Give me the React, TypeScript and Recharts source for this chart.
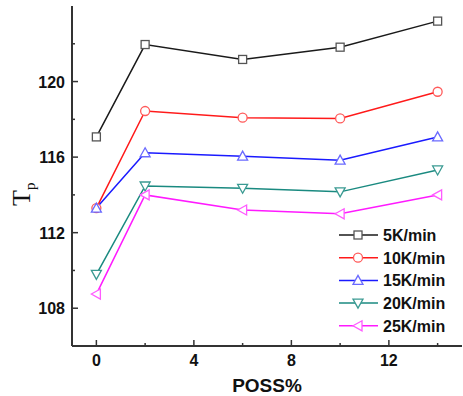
import React from 'react';
import { LineChart, Line, XAxis, YAxis, Legend } from 'recharts';

const possPercent = [0, 2, 6, 10, 14];
const rate5 = [117.07, 121.96, 121.17, 121.82, 123.2];
const rate10 = [113.3, 118.44, 118.09, 118.05, 119.46];
const rate15 = [113.3, 116.23, 116.05, 115.84, 117.07];
const rate20 = [109.79, 114.47, 114.35, 114.16, 115.32];
const rate25 = [108.75, 114.0, 113.2, 113.0, 114.0];
const seriesNames = ['5K/min', '10K/min', '15K/min', '20K/min', '25K/min'];
const xTicks = [0, 2, 4, 6, 8, 10, 12, 14];
const yTicks = [106, 108, 110, 112, 114, 116, 118, 120, 122, 124];

const data = possPercent.map((p, i) => ({
  poss: p,
  r5: rate5[i],
  r10: rate10[i],
  r15: rate15[i],
  r20: rate20[i],
  r25: rate25[i],
}));

const series = [
  { key: 'r5', name: seriesNames[0], color: '#1a1a1a', mark: '#555555', shape: 'square' },
  { key: 'r10', name: seriesNames[1], color: '#ff1a1a', mark: '#ff5a5a', shape: 'circle' },
  { key: 'r15', name: seriesNames[2], color: '#1a1aff', mark: '#6a6aff', shape: 'up' },
  { key: 'r20', name: seriesNames[3], color: '#1a8a80', mark: '#3a9a92', shape: 'down' },
  { key: 'r25', name: seriesNames[4], color: '#ff1aff', mark: '#ff5aff', shape: 'left' },
];

const FONT = '"Liberation Sans", Arial, sans-serif';

function Marker({ cx, cy, shape, color }: any) {
  if (cx == null || cy == null) return null;
  const common = { fill: '#ffffff', stroke: color, strokeWidth: 1.3 };
  if (shape === 'square') return <rect x={cx - 4} y={cy - 4} width={8} height={8} {...common} />;
  if (shape === 'circle') return <circle cx={cx} cy={cy} r={4.5} {...common} />;
  if (shape === 'up')
    return <polygon points={`${cx},${cy - 5} ${cx - 5},${cy + 4} ${cx + 5},${cy + 4}`} {...common} />;
  if (shape === 'down')
    return <polygon points={`${cx},${cy + 5} ${cx - 5},${cy - 4} ${cx + 5},${cy - 4}`} {...common} />;
  return <polygon points={`${cx - 5},${cy} ${cx + 4},${cy - 5} ${cx + 4},${cy + 5}`} {...common} />;
}

const X_MARGIN = 8;
const Y_MARGIN = 7;

function XTick(props: any) {
  const { x, y, payload } = props;
  const axisY = y - X_MARGIN;
  const major = payload.value % 4 === 0;
  return (
    <g>
      <line x1={x} x2={x} y1={axisY} y2={axisY - (major ? 6 : 3)} stroke="#333" strokeWidth={1.5} />
      {major && (
        <text x={x} y={axisY + 20} textAnchor="middle" fontFamily={FONT} fontWeight="bold" fontSize={16} fill="#111">
          {payload.value}
        </text>
      )}
    </g>
  );
}

function YTick(props: any) {
  const { x, y, payload } = props;
  const axisX = x + Y_MARGIN;
  const major = payload.value % 4 === 0;
  if (payload.value === 106 || payload.value === 124) return <g />;
  return (
    <g>
      <line x1={axisX} x2={axisX + (major ? 6 : 3)} y1={y} y2={y} stroke="#333" strokeWidth={1.5} />
      {major && (
        <text x={x} y={y + 6} textAnchor="end" fontFamily={FONT} fontWeight="bold" fontSize={16} fill="#111">
          {payload.value}
        </text>
      )}
    </g>
  );
}

function LegendBox() {
  return (
    <svg width={130} height={115} style={{ display: 'block' }}>
      {series.map((s, i) => {
        const cy = 11 + i * 22.7;
        return (
          <g key={s.key}>
            <line x1={4} x2={43} y1={cy} y2={cy} stroke={s.color} strokeWidth={1.5} />
            <Marker cx={23} cy={cy} shape={s.shape} color={s.mark} />
            <text x={48} y={cy + 6} fontFamily={FONT} fontWeight="bold" fontSize={16} fill="#111">
              {s.name}
            </text>
          </g>
        );
      })}
    </svg>
  );
}

export default function App() {
  return (
    <div style={{ position: 'absolute', left: 0, top: 0, width: 463, height: 396, background: '#fff' }}>
      <LineChart width={463} height={396} data={data} margin={{ top: 6, right: 1, bottom: 0, left: 0 }}>
        <XAxis
          dataKey="poss"
          type="number"
          domain={[-1, 15]}
          ticks={xTicks}
          interval={0}
          height={50}
          tickSize={0}
          tickLine={false}
          tickMargin={X_MARGIN}
          tick={<XTick />}
          axisLine={{ stroke: '#333', strokeWidth: 2 }}
          allowDataOverflow
          label={{
            content: (p: any) => {
              const vb = p.viewBox;
              return (
                <text x={vb.x + vb.width / 2} y={vb.y + 46} textAnchor="middle" fontFamily={FONT} fontWeight="bold" fontSize={19} fill="#111">
                  POSS%
                </text>
              );
            },
          }}
        />
        <XAxis xAxisId="top" orientation="top" dataKey="poss" type="number" domain={[-1, 15]} height={0} tick={false} tickLine={false} axisLine={{ stroke: '#444', strokeWidth: 2 }} />
        <YAxis
          type="number"
          domain={[106, 124]}
          ticks={yTicks}
          interval={0}
          width={72}
          tickSize={0}
          tickLine={false}
          tickMargin={Y_MARGIN}
          tick={<YTick />}
          axisLine={{ stroke: '#333', strokeWidth: 2 }}
          allowDataOverflow
          label={{
            content: () => (
              <text transform="rotate(-90, 30, 206)" x={30} y={206} fontFamily='"Liberation Serif", "Times New Roman", serif' fontSize={26} fill="#111">
                T<tspan fontSize={15} dy={5}>p</tspan>
              </text>
            ),
          }}
        />
        <YAxis yAxisId="right" orientation="right" type="number" domain={[106, 124]} width={0} tick={false} tickLine={false} axisLine={{ stroke: '#444', strokeWidth: 1.5 }} />
        <Legend
          layout="vertical"
          align="center"
          verticalAlign="middle"
          content={() => <LegendBox />}
          wrapperStyle={{ position: 'absolute', left: 335, top: 224, width: 130, height: 115 }}
        />
        {series.map((s) => (
          <Line
            key={s.key}
            dataKey={s.key}
            name={s.name}
            stroke={s.color}
            strokeWidth={1.5}
            isAnimationActive={false}
            dot={(p: any) => <Marker key={`${s.key}-${p.index}`} cx={p.cx} cy={p.cy} shape={s.shape} color={s.mark} />}
          />
        ))}
      </LineChart>
    </div>
  );
}
